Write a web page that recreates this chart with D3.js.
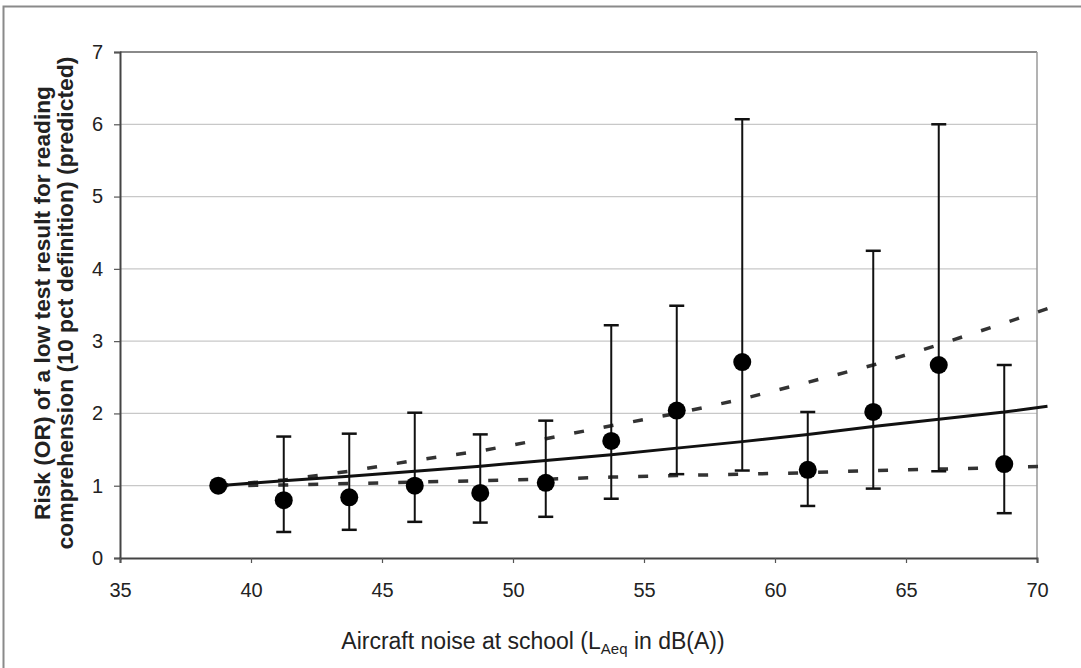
<!DOCTYPE html>
<html><head><meta charset="utf-8">
<script src="https://cdn.jsdelivr.net/npm/d3@7"></script>
<style>body{margin:0;background:#fff}svg{display:block}text{font-family:"Liberation Sans",Arial,sans-serif}</style>
</head><body><svg id="c" width="1081" height="668"></svg>
<script>
// Data
const noise = [38.75, 41.25, 43.75, 46.25, 48.75, 51.25, 53.75, 56.25, 58.75, 61.25, 63.75, 66.25, 68.75];
const orValue = [1.0, 0.80, 0.84, 1.0, 0.90, 1.04, 1.62, 2.04, 2.71, 1.22, 2.02, 2.67, 1.30];
const ciLow  = [null, 0.36, 0.39, 0.50, 0.49, 0.57, 0.82, 1.16, 1.21, 0.72, 0.96, 1.20, 0.62];
const ciHigh = [null, 1.68, 1.72, 2.01, 1.71, 1.90, 3.22, 3.49, 6.07, 2.02, 4.25, 6.00, 2.67];
const fitX     = [38.75, 41.25, 43.75, 46.25, 48.75, 51.25, 53.75, 56.25, 58.75, 61.25, 63.75, 66.25, 68.75, 70.4];
const fitMid   = [1.0, 1.07, 1.13, 1.20, 1.27, 1.35, 1.43, 1.52, 1.61, 1.71, 1.82, 1.92, 2.02, 2.10];
const fitUpper = [1.0, 1.08, 1.20, 1.35, 1.48, 1.65, 1.83, 2.00, 2.20, 2.43, 2.67, 2.95, 3.25, 3.45];
const fitLower = [1.0, 1.01, 1.03, 1.05, 1.07, 1.09, 1.12, 1.14, 1.16, 1.18, 1.21, 1.23, 1.25, 1.27];
const xTicks = [35, 40, 45, 50, 55, 60, 65, 70];
const yTicks = [0, 1, 2, 3, 4, 5, 6, 7];
const yTitle1 = "Risk (OR) of a low test result for reading";
const yTitle2 = "comprehension (10 pct definition) (predicted)";

const svg = d3.select("#c");
const x = d3.scaleLinear().domain([35, 70]).range([120, 1037]);
const y = d3.scaleLinear().domain([0, 7]).range([558, 52]);

// outer frame
svg.append("rect").attr("x", 3.5).attr("y", 6.5).attr("width", 1100).attr("height", 700)
  .attr("fill", "none").attr("stroke", "#8a8a8a").attr("stroke-width", 2);

// gridlines
svg.append("g").selectAll("line").data(yTicks.filter(d => d > 0 && d < 7)).join("line")
  .attr("x1", x(35)).attr("x2", x(70)).attr("y1", d => y(d)).attr("y2", d => y(d))
  .attr("stroke", "#c8c8c8").attr("stroke-width", 1.2);
// plot border top/right
svg.append("line").attr("x1", x(35)).attr("x2", x(70)).attr("y1", y(7)).attr("y2", y(7))
  .attr("stroke", "#8a8a8a").attr("stroke-width", 2);
svg.append("line").attr("x1", x(70)).attr("x2", x(70)).attr("y1", y(7)).attr("y2", y(0))
  .attr("stroke", "#9a9a9a").attr("stroke-width", 1.5);

// axes
const yAxis = svg.append("g").attr("transform", `translate(${x(35)},0)`)
  .call(d3.axisLeft(y).tickValues(yTicks).tickFormat(d3.format("d")).tickSize(6).tickPadding(11));
const xAxis = svg.append("g").attr("transform", `translate(0,${y(0)})`)
  .call(d3.axisBottom(x).tickValues(xTicks).tickFormat(d3.format("d")).tickSize(5).tickPadding(20));
[yAxis, xAxis].forEach(a => {
  a.select(".domain").attr("stroke", "#444").attr("stroke-width", 2);
  a.selectAll(".tick line").attr("stroke", "#555").attr("stroke-width", 1.2);
  a.selectAll("text").attr("fill", "#222").style("font-family", '"Liberation Sans",Arial,sans-serif');
});
yAxis.selectAll("text").attr("font-size", 20);
xAxis.selectAll("text").attr("font-size", 20);

// fitted lines
const pts = a => fitX.map((v, i) => [x(v), y(a[i])]);
const line = d3.line();
svg.append("path").attr("d", line(pts(fitUpper))).attr("fill", "none")
  .attr("stroke", "#333").attr("stroke-width", 3.5).attr("stroke-dasharray", "10,20");
svg.append("path").attr("d", line(pts(fitLower))).attr("fill", "none")
  .attr("stroke", "#333").attr("stroke-width", 3.5).attr("stroke-dasharray", "10,20");
svg.append("path").attr("d", line(pts(fitMid))).attr("fill", "none")
  .attr("stroke", "#111").attr("stroke-width", 3);

// error bars
const eb = svg.append("g").attr("stroke", "#111").attr("stroke-width", 2);
noise.forEach((n, i) => {
  if (ciLow[i] == null) return;
  eb.append("line").attr("x1", x(n)).attr("x2", x(n)).attr("y1", y(ciLow[i])).attr("y2", y(ciHigh[i]));
  [ciLow[i], ciHigh[i]].forEach(v => eb.append("line")
    .attr("x1", x(n) - 7.5).attr("x2", x(n) + 7.5).attr("y1", y(v)).attr("y2", y(v)).attr("stroke-width", 2.5));
});
// points
svg.append("g").selectAll("circle").data(noise).join("circle")
  .attr("cx", d => x(d)).attr("cy", (d, i) => y(orValue[i])).attr("r", 9).attr("fill", "#000");

// axis titles
const xt = svg.append("text").attr("x", 533).attr("y", 649).attr("text-anchor", "middle")
  .attr("font-size", 23).attr("fill", "#222");
xt.append("tspan").text("Aircraft noise at school (L");
xt.append("tspan").attr("font-size", 15).attr("dy", 5).text("Aeq");
xt.append("tspan").attr("dy", -5).text(" in dB(A))");

const yt = svg.append("g").attr("transform", "translate(50,303) rotate(-90)");
yt.append("text").attr("text-anchor", "middle").attr("font-size", 22).attr("font-weight", "bold")
  .attr("fill", "#222").attr("textLength", 434).attr("lengthAdjust", "spacingAndGlyphs").text(yTitle1);
yt.append("text").attr("text-anchor", "middle").attr("y", 23).attr("font-size", 22).attr("font-weight", "bold")
  .attr("fill", "#222").attr("textLength", 493).attr("lengthAdjust", "spacingAndGlyphs").text(yTitle2);
</script></body></html>
